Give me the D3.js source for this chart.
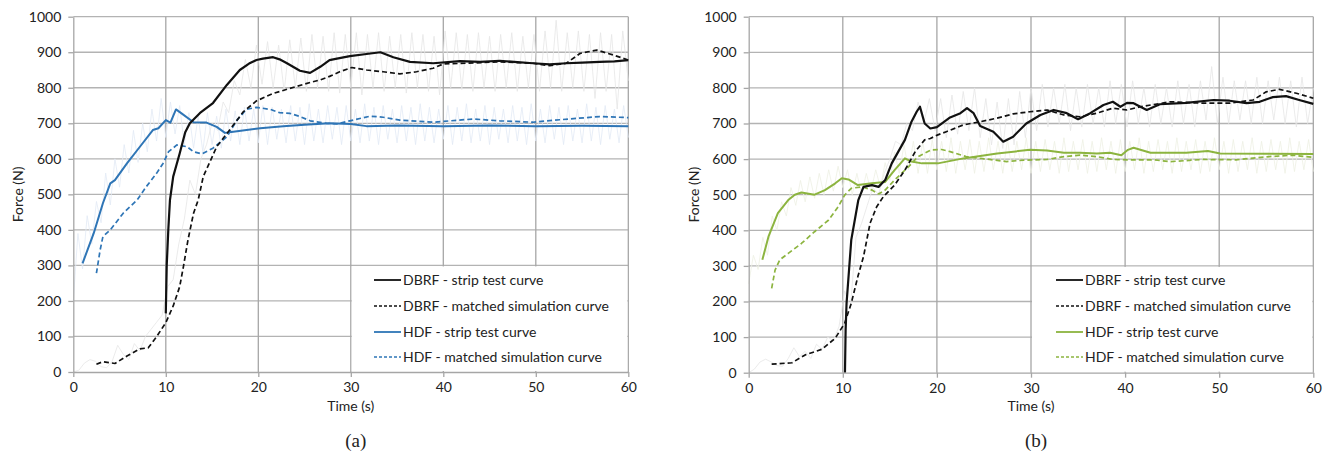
<!DOCTYPE html>
<html>
<head>
<meta charset="utf-8">
<script src="https://cdn.jsdelivr.net/npm/d3@7"></script>
<style>
  body { margin: 0; background: #fff; }
  svg text { font-family: Lato, "Open Sans", sans-serif; fill: #222; }
</style>
</head>
<body>
<script>
// ---- data ----
const yTicks = [0, 100, 200, 300, 400, 500, 600, 700, 800, 900, 1000];
const xTicks = [0, 10, 20, 30, 40, 50, 60];
const legendA = ["DBRF - strip test curve", "DBRF - matched simulation curve", "HDF - strip test curve", "HDF - matched simulation curve"];
const legendB = ["DBRF - strip test curve", "DBRF - matched simulation curve", "HDF - strip test curve", "HDF - matched simulation curve"];

// panel (a)
const aDbrfTestT = [10.0, 10.1, 10.27, 10.45, 10.8, 11.5, 12.1, 12.6, 13.7, 15.1, 16.6, 18.0, 19.0, 19.8, 20.5, 21.6, 22.3, 23.1, 24.5, 25.6, 26.7, 27.7, 28.5, 29.9, 31.7, 33.2, 34.6, 36.4, 38.9, 41.8, 44.0, 46.1, 48.0, 49.7, 51.5, 53.3, 55.0, 56.9, 58.5, 60.0];
const aDbrfTestF = [165, 300, 400, 484, 550, 615, 675, 700, 729, 757, 808, 850, 868, 878, 882, 886, 880, 869, 848, 842, 859, 878, 882, 889, 895, 900, 886, 873, 869, 875, 873, 876, 872, 869, 866, 869, 871, 873, 874, 878];
const aDbrfSimT = [2.5, 3.2, 4.5, 5.8, 7.2, 8.1, 9.0, 10.0, 10.8, 11.5, 11.9, 12.4, 13.0, 13.5, 14.05, 15.5, 16.9, 18.4, 19.8, 21.6, 23.4, 25.6, 26.7, 27.7, 28.8, 30.1, 31.7, 33.5, 35.3, 37.1, 38.9, 40.0, 42.5, 46.1, 49.7, 51.5, 53.3, 54.8, 56.6, 58.4, 60.0];
const aDbrfSimF = [22, 29, 24, 45, 65, 68, 99, 139, 186, 240, 296, 372, 447, 484, 550, 634, 681, 733, 763, 784, 798, 815, 822, 832, 845, 857, 850, 845, 839, 845, 855, 867, 869, 873, 869, 862, 869, 897, 906, 892, 878];
const aHdfTestT = [1.0, 2.2, 3.2, 4.0, 4.5, 5.8, 7.2, 8.6, 9.2, 10.0, 10.5, 11.1, 11.7, 13.0, 14.4, 15.5, 16.4, 17.3, 20.2, 22.7, 25.0, 27.7, 30.0, 31.7, 35.0, 40.0, 45.0, 50.0, 55.0, 60.0];
const aHdfTestF = [306, 390, 475, 531, 540, 587, 634, 681, 686, 709, 702, 739, 728, 703, 702, 690, 673, 676, 686, 692, 696, 700, 698, 692, 694, 692, 694, 692, 693, 692];
const aHdfSimT = [2.5, 2.9, 3.2, 4.0, 5.4, 6.9, 7.9, 9.0, 9.7, 10.3, 11.2, 12.3, 13.0, 13.9, 15.1, 16.6, 17.7, 18.7, 19.8, 21.3, 22.3, 23.4, 24.5, 25.6, 27.4, 28.5, 29.9, 32.1, 33.5, 35.3, 38.9, 43.2, 46.1, 49.7, 52.6, 56.9, 60.0];
const aHdfSimF = [278, 343, 381, 400, 447, 484, 522, 559, 587, 620, 639, 634, 620, 614, 630, 662, 709, 739, 745, 739, 730, 728, 719, 707, 700, 698, 707, 720, 717, 709, 703, 712, 707, 703, 710, 719, 716];
// raw measured signals, sampled every 0.6 s (DBRF) and 0.5 s (HDF)
const aDbrfRaw = [0, 5, 25, 35, 30, 15, 12, 30, 75, 50, 35, 80, 60, 100, 120, 140, 160, 240, 260, 360, 430, 540, 500, 600, 640, 700, 680, 760, 730, 820, 780, 880, 800, 920, 810, 930, 800, 920, 790, 935, 800, 940, 790, 950, 800, 945, 790, 955, 785, 950, 800, 955, 780, 950, 800, 955, 790, 945, 800, 950, 785, 955, 800, 950, 790, 945, 780, 960, 800, 955, 795, 950, 790, 955, 800, 945, 790, 950, 800, 955, 790, 945, 800, 950, 790, 960, 800, 990, 790, 955, 800, 960, 790, 950, 770, 955, 790, 950, 740, 960, 820];
const aHdfRaw = [200, 390, 290, 440, 360, 480, 420, 560, 470, 600, 520, 640, 560, 680, 590, 700, 620, 740, 650, 770, 660, 760, 670, 750, 640, 730, 630, 720, 620, 730, 640, 720, 630, 740, 650, 735, 640, 745, 650, 740, 645, 750, 640, 745, 655, 740, 645, 750, 650, 745, 640, 755, 650, 740, 645, 750, 655, 745, 640, 750, 650, 740, 645, 755, 650, 745, 640, 750, 655, 740, 645, 750, 650, 745, 640, 755, 650, 745, 645, 740, 655, 750, 640, 745, 650, 755, 645, 740, 650, 750, 640, 745, 655, 740, 645, 750, 650, 745, 640, 755, 650, 740, 645, 750, 655, 745, 640, 750, 650, 740, 645, 755, 650, 745, 640, 750, 655, 740, 645, 750, 660];

// panel (b)
const bDbrfTestT = [10.23, 10.3, 10.4, 10.9, 11.65, 12.2, 13.1, 13.8, 14.5, 15.2, 15.9, 16.6, 17.3, 17.85, 18.2, 18.7, 19.3, 20.0, 21.4, 22.5, 23.2, 23.9, 24.6, 26.0, 27.05, 28.1, 29.5, 31.0, 32.4, 33.8, 35.0, 36.3, 37.7, 38.7, 39.5, 40.2, 40.9, 42.3, 43.7, 46.5, 49.4, 51.1, 52.9, 54.3, 55.7, 57.1, 58.5, 60.0];
const bDbrfTestF = [0, 120, 195, 373, 485, 522, 527, 522, 541, 588, 621, 654, 705, 733, 747, 700, 686, 690, 717, 729, 743, 729, 693, 677, 649, 663, 700, 724, 738, 729, 712, 729, 752, 761, 747, 758, 757, 738, 754, 758, 766, 764, 757, 761, 774, 777, 766, 755];
const bDbrfSimT = [2.44, 4.6, 6.0, 7.8, 9.2, 10.2, 10.9, 11.6, 12.2, 12.9, 13.6, 14.3, 15.5, 16.6, 17.7, 18.7, 19.3, 20.1, 21.0, 22.8, 24.6, 26.4, 28.1, 29.9, 31.7, 33.5, 35.2, 37.0, 38.7, 40.2, 41.6, 44.8, 48.3, 51.1, 53.6, 55.0, 56.4, 58.2, 60.0];
const bDbrfSimF = [24, 28, 50, 66, 97, 139, 195, 270, 326, 420, 466, 494, 527, 569, 621, 654, 658, 668, 677, 696, 705, 715, 727, 733, 738, 724, 719, 729, 743, 738, 747, 761, 757, 757, 766, 789, 796, 785, 771];
const bHdfTestT = [1.45, 2.1, 3.1, 4.2, 4.9, 5.6, 7.0, 8.1, 9.2, 9.9, 10.6, 11.6, 13.1, 14.5, 15.5, 16.6, 17.3, 18.4, 20.1, 22.8, 26.4, 29.9, 31.7, 33.5, 35.2, 37.0, 38.4, 39.6, 40.3, 40.9, 42.7, 46.5, 48.8, 50.1, 55.0, 60.0];
const bHdfTestF = [317, 382, 448, 485, 500, 506, 500, 513, 532, 546, 543, 527, 532, 536, 569, 602, 593, 588, 588, 602, 616, 626, 624, 618, 618, 616, 618, 611, 626, 632, 618, 618, 623, 616, 615, 614];
const bHdfSimT = [2.44, 2.8, 3.3, 4.2, 5.6, 7.0, 8.5, 9.5, 10.2, 10.9, 12.0, 13.1, 13.8, 14.5, 15.5, 17.0, 18.0, 19.4, 20.5, 21.4, 23.1, 25.6, 27.4, 29.2, 31.7, 33.5, 35.2, 37.0, 38.7, 40.2, 43.0, 44.8, 48.3, 51.8, 55.3, 57.8, 60.0];
const bHdfSimF = [237, 288, 317, 335, 363, 396, 429, 466, 499, 518, 522, 513, 502, 513, 541, 579, 607, 626, 627, 621, 607, 599, 593, 597, 599, 607, 611, 607, 599, 598, 598, 593, 599, 598, 607, 611, 605];
const bDbrfRaw = [0, 10, 30, 38, 30, 20, 18, 40, 70, 45, 60, 40, 80, 65, 100, 90, 130, 230, 180, 380, 420, 470, 520, 500, 560, 600, 650, 640, 700, 680, 760, 700, 770, 680, 770, 660, 780, 670, 790, 680, 800, 660, 770, 640, 760, 630, 770, 640, 790, 660, 800, 680, 810, 690, 800, 700, 810, 680, 800, 690, 810, 700, 800, 690, 820, 700, 810, 690, 820, 700, 800, 690, 810, 700, 800, 690, 820, 700, 810, 690, 820, 710, 860, 700, 830, 700, 820, 710, 820, 700, 830, 700, 820, 710, 830, 700, 820, 690, 830, 700, 800];
const bHdfRaw = [250, 330, 290, 380, 330, 440, 400, 480, 440, 520, 470, 540, 480, 550, 490, 560, 500, 570, 510, 580, 520, 570, 500, 560, 500, 560, 510, 570, 520, 590, 540, 620, 560, 640, 570, 650, 560, 650, 560, 655, 570, 650, 565, 660, 560, 650, 570, 655, 560, 650, 565, 660, 570, 650, 560, 655, 565, 650, 570, 660, 560, 650, 565, 655, 570, 650, 560, 660, 565, 650, 570, 655, 560, 650, 565, 660, 570, 650, 560, 655, 565, 650, 570, 660, 560, 650, 565, 655, 570, 650, 560, 660, 565, 650, 570, 655, 560, 650, 565, 660, 570, 650, 560, 655, 565, 650, 570, 660, 560, 650, 565, 655, 570, 650, 560, 660, 565, 650, 570, 655, 565];

const width = 1326;
const height = 453;

const svg = d3.select('body').append('svg').attr('width', width).attr('height', height);

const zip = (ts, fs) => ts.map((t, i) => [t, fs[i]]);
const rawPts = (vals, step) => vals.map((v, i) => [i * step, v]);

const drawPanel = function(p){

    const x = d3.scaleLinear().domain([0, 60]).range([p.x0, p.x1]);
    const y = d3.scaleLinear().domain([0, 1000]).range([p.y0, p.y1]);
    const g = svg.append('g');

    // grid
    g.selectAll('.hg').data(yTicks.slice(1)).enter().append('line')
        .attr('x1', p.x0).attr('x2', p.x1)
        .attr('y1', d => y(d)).attr('y2', d => y(d))
        .attr('stroke', '#b3b3b3').attr('stroke-width', 1.3);
    g.selectAll('.vg').data(xTicks.slice(1)).enter().append('line')
        .attr('x1', d => x(d)).attr('x2', d => x(d))
        .attr('y1', p.y0).attr('y2', p.y1)
        .attr('stroke', '#a6a6a6').attr('stroke-width', 1.3);

    const line = d3.line().x(d => x(d[0])).y(d => y(d[1]));

    // raw signals underneath
    g.append('path').datum(rawPts(p.hdfRaw, 0.5)).attr('d', line)
        .attr('fill', 'none').attr('stroke', p.rawColor).attr('stroke-width', 0.8);
    g.append('path').datum(rawPts(p.dbrfRaw, 0.6)).attr('d', line)
        .attr('fill', 'none').attr('stroke', '#e6e6e6').attr('stroke-width', 0.8);

    // legend box hides grid
    g.append('rect').attr('x', x(30) + 1).attr('y', y(300) + 1)
        .attr('width', p.x1 - x(30) - 2).attr('height', p.y0 - y(300) - 2)
        .attr('fill', '#fff');

    const series = [
        {pts: p.dbrfTest, color: '#111', w: 2.2, dash: null},
        {pts: p.dbrfSim, color: '#111', w: 1.7, dash: '5,3'},
        {pts: p.hdfTest, color: p.color, w: 2, dash: null},
        {pts: p.hdfSim, color: p.color, w: 1.7, dash: '5,3'}
    ];
    // draw HDF below DBRF
    [series[3], series[2], series[1], series[0]].forEach(s => {
        g.append('path').datum(s.pts).attr('d', line)
            .attr('fill', 'none').attr('stroke', s.color).attr('stroke-width', s.w)
            .attr('stroke-dasharray', s.dash).attr('stroke-linejoin', 'round');
    });

    // axes
    const yAxis = d3.axisLeft(y).tickValues(yTicks).tickFormat(d3.format('d'))
        .tickSize(5).tickSizeOuter(0).tickPadding(7);
    const xAxis = d3.axisBottom(x).tickValues(xTicks).tickFormat(d3.format('d'))
        .tickSize(5).tickSizeOuter(0).tickPadding(5);
    const ya = g.append('g').attr('transform', `translate(${p.x0},0)`).call(yAxis);
    const xa = g.append('g').attr('transform', `translate(0,${p.y0})`).call(xAxis);
    [ya, xa].forEach(a => {
        a.select('.domain').attr('stroke', '#a6a6a6').attr('stroke-width', 1.3);
        a.selectAll('.tick line').attr('stroke', '#a6a6a6').attr('stroke-width', 1.3);
        a.selectAll('.tick text').attr('font-size', 14).attr('fill', '#222')
            .style('font-family', 'Lato, sans-serif');
    });

    // axis titles
    g.append('text').attr('transform', `translate(${p.x0 - 50},${(p.y0 + p.y1) / 2}) rotate(-90)`)
        .attr('text-anchor', 'middle').attr('font-size', 14).text('Force (N)');
    g.append('text').attr('x', x(30)).attr('y', 411)
        .attr('text-anchor', 'middle').attr('font-size', 14).text('Time (s)');
    g.append('text').attr('x', x(30) + 5).attr('y', 447)
        .attr('text-anchor', 'middle').attr('font-size', 19)
        .style('font-family', '"Liberation Serif", "DejaVu Serif", serif').text(p.caption);

    // legend
    const lg = g.append('g');
    const rows = [0, 1, 2, 3];
    const ly = [280, 306, 332, 357];
    lg.selectAll('line').data(rows).enter().append('line')
        .attr('x1', p.lx).attr('x2', p.lx + 27)
        .attr('y1', i => ly[i]).attr('y2', i => ly[i])
        .attr('stroke', i => series[i].color)
        .attr('stroke-width', i => series[i].dash ? 1.3 : 1.8)
        .attr('stroke-dasharray', i => series[i].dash ? '3,2' : null);
    lg.selectAll('text').data(rows).enter().append('text')
        .attr('x', p.lx + 29).attr('y', i => ly[i] + 5)
        .attr('font-size', 14).text(i => p.legend[i]);
}

drawPanel({
    x0: 73.3, x1: 628.3, y0: 372, y1: 16.7, lx: 374,
    color: '#2e75b6', rawColor: '#e2eaf5', caption: '(a)', legend: legendA,
    dbrfTest: zip(aDbrfTestT, aDbrfTestF), dbrfSim: zip(aDbrfSimT, aDbrfSimF),
    hdfTest: zip(aHdfTestT, aHdfTestF), hdfSim: zip(aHdfSimT, aHdfSimF),
    dbrfRaw: aDbrfRaw, hdfRaw: aHdfRaw
});

drawPanel({
    x0: 748.7, x1: 1313.3, y0: 372.7, y1: 16.7, lx: 1056,
    color: '#8cb43f', rawColor: '#eef0e3', caption: '(b)', legend: legendB,
    dbrfTest: zip(bDbrfTestT, bDbrfTestF), dbrfSim: zip(bDbrfSimT, bDbrfSimF),
    hdfTest: zip(bHdfTestT, bHdfTestF), hdfSim: zip(bHdfSimT, bHdfSimF),
    dbrfRaw: bDbrfRaw, hdfRaw: bHdfRaw
});
</script>
</body>
</html>
